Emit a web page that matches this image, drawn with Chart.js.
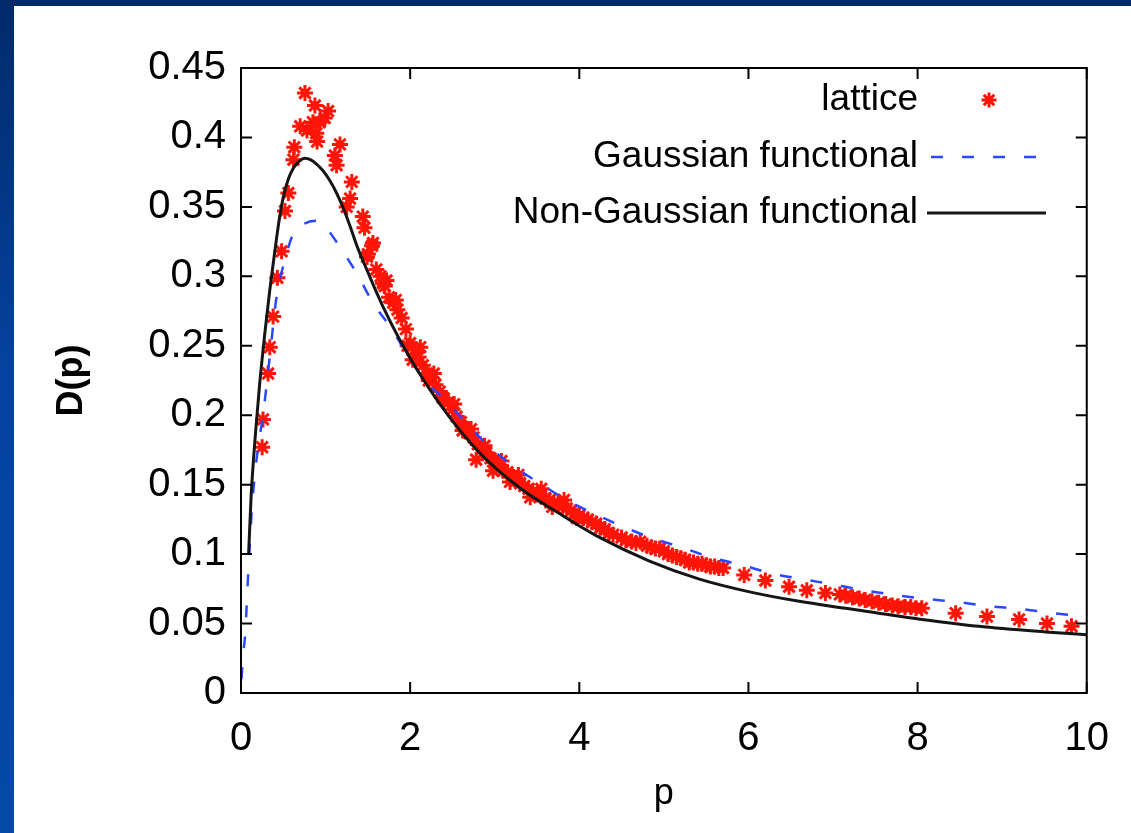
<!DOCTYPE html>
<html>
<head>
<meta charset="utf-8">
<script src="https://cdn.jsdelivr.net/npm/chart.js@4.4.0/dist/chart.umd.min.js"></script>
<style>
    html, body { margin: 0; padding: 0; width: 1131px; height: 833px; overflow: hidden; }
    body { position: relative; background: linear-gradient(to bottom, #022a6a 0%, #0542a0 45%, #0649a8 100%); }
    .panel { position: absolute; left: 14px; top: 6px; right: 0; bottom: 0; background: #fff; }
    #dist { position: absolute; left: 0; top: 0; }
</style>
</head>
<body>
<div class="panel"></div>
<canvas id="dist" width="1131" height="833"></canvas>
<script>
// lattice data D(p)
const latticeP = [
    0.25, 0.26, 0.32, 0.34, 0.38, 0.43, 0.48, 0.52, 0.56, 0.62, 0.63,
    0.70, 0.756, 0.78, 0.85, 0.874, 0.89, 0.90, 0.93, 0.99, 1.03,
    1.11, 1.13, 1.17, 1.25, 1.29, 1.31, 1.44, 1.46, 1.49, 1.56,
    1.50, 1.55, 1.60, 1.65, 1.68, 1.70, 1.72, 1.75, 1.80, 1.83, 1.85, 1.90, 1.95,
    1.97, 2.00, 2.03, 2.05, 2.10, 2.12, 2.15, 2.20, 2.22, 2.25, 2.28, 2.30, 2.35,
    2.38, 2.40, 2.45, 2.50, 2.52, 2.55, 2.60, 2.62, 2.65, 2.70, 2.72, 2.75, 2.78,
    2.80, 2.85, 2.88, 2.90, 2.95, 2.98, 3.00, 3.05, 3.08, 3.10, 3.15, 3.18, 3.20,
    3.25, 3.28, 3.30, 3.35, 3.40, 3.42, 3.45, 3.50, 3.55, 3.55, 3.60, 3.65, 3.68,
    3.70, 3.75, 3.80, 3.82, 3.85, 3.90, 3.95, 3.97, 4.00,
    4.05, 4.10, 4.15, 4.20, 4.25, 4.30, 4.35, 4.40, 4.50, 4.55, 4.62, 4.67, 4.72,
    4.80, 4.85, 4.90, 4.95, 5.00, 5.05, 5.10, 5.15, 5.20, 5.25, 5.30, 5.35, 5.40,
    5.45, 5.50, 5.55, 5.60, 5.65, 5.70, 5.95,
    6.20, 6.48, 6.69, 6.91, 7.08, 7.15, 7.23, 7.31, 7.38, 7.46, 7.54, 7.62, 7.70,
    7.77, 7.85, 7.92, 7.98, 8.05, 8.45, 8.82, 9.20, 9.53, 9.82
];
const latticeD = [
    0.177, 0.197, 0.230, 0.249, 0.271, 0.299, 0.318, 0.347, 0.360, 0.384, 0.393,
    0.408, 0.432, 0.405, 0.411, 0.423, 0.403, 0.397, 0.411, 0.414, 0.419,
    0.387, 0.380, 0.395, 0.350, 0.356, 0.368, 0.343, 0.335, 0.314, 0.324,
    0.316, 0.322, 0.305, 0.300, 0.295, 0.293, 0.297, 0.285, 0.281, 0.283, 0.276, 0.270, 0.262,
    0.250, 0.252, 0.240, 0.247, 0.242, 0.249, 0.236, 0.230, 0.225, 0.227, 0.230, 0.222, 0.217,
    0.213, 0.212, 0.209, 0.204, 0.208, 0.199, 0.195, 0.189, 0.191, 0.187, 0.190, 0.184, 0.168,
    0.179, 0.176, 0.178, 0.173, 0.169, 0.160, 0.166, 0.164, 0.167, 0.160, 0.159, 0.152, 0.156,
    0.153, 0.157, 0.151, 0.149, 0.147, 0.141, 0.145, 0.143, 0.142, 0.147, 0.140, 0.139, 0.134,
    0.137, 0.136, 0.134, 0.139, 0.133, 0.131, 0.130, 0.126, 0.128,
    0.126, 0.125, 0.123, 0.122, 0.119, 0.118, 0.115, 0.114, 0.112, 0.110, 0.109, 0.108, 0.109,
    0.106, 0.105, 0.104, 0.104, 0.102, 0.100, 0.099, 0.098, 0.097, 0.096, 0.094, 0.094, 0.093,
    0.093, 0.092, 0.091, 0.091, 0.090, 0.090, 0.085,
    0.081, 0.0765, 0.074, 0.072, 0.071, 0.070, 0.069, 0.068, 0.067, 0.066, 0.065, 0.064, 0.063,
    0.0625, 0.062, 0.062, 0.061, 0.061, 0.0575, 0.055, 0.053, 0.050, 0.048
];

// Gaussian functional curve
const gaussP = [
    0.005, 0.03, 0.05, 0.085, 0.126, 0.165, 0.21, 0.26, 0.34, 0.42, 0.52, 0.62,
    0.75, 0.90, 1.03, 1.17, 1.37, 1.56, 1.76, 2.15, 2.43, 2.67, 2.94, 3.21, 3.53,
    3.85, 4.18, 4.51, 4.86, 5.20, 5.54, 5.93, 6.28, 6.64, 7.01, 7.37, 7.74, 8.11,
    8.47, 8.84, 9.22, 9.58, 10.0
];
const gaussD = [
    0.010, 0.030, 0.043, 0.086, 0.130, 0.158, 0.180, 0.200, 0.242, 0.285, 0.312, 0.331,
    0.338, 0.340, 0.333, 0.321, 0.302, 0.281, 0.264, 0.227, 0.210, 0.194, 0.177, 0.164, 0.151,
    0.139, 0.129, 0.120, 0.1115, 0.105, 0.098, 0.092, 0.086, 0.082, 0.078, 0.074, 0.0705, 0.0677,
    0.0655, 0.0626, 0.0605, 0.0576, 0.055
];

// Non-Gaussian functional curve
const nonGaussP = [
    0.09, 0.12, 0.17, 0.22, 0.28, 0.34, 0.40, 0.45, 0.50, 0.56, 0.62, 0.69, 0.756,
    0.82, 0.89, 0.97, 1.05, 1.13, 1.21, 1.29, 1.37, 1.50, 1.68, 1.88, 2.11, 2.43,
    2.82, 3.29, 3.77, 4.24, 4.83, 5.42, 6.00, 6.60, 7.15, 7.93, 8.72, 9.51, 10.0
];
const nonGaussD = [
    0.100, 0.142, 0.186, 0.222, 0.258, 0.290, 0.318, 0.340, 0.357, 0.370, 0.378, 0.383, 0.385,
    0.384, 0.381, 0.376, 0.369, 0.360, 0.349, 0.336, 0.322, 0.303, 0.278, 0.254, 0.230, 0.2015,
    0.173, 0.148, 0.129, 0.112, 0.095, 0.082, 0.073, 0.066, 0.061, 0.054, 0.048, 0.044, 0.042
];

const xTicks = [0, 2, 4, 6, 8, 10];
const yTicks = [0, 0.05, 0.1, 0.15, 0.2, 0.25, 0.3, 0.35, 0.4, 0.45];
const yTickLabels = ['0', '0.05', '0.1', '0.15', '0.2', '0.25', '0.3', '0.35', '0.4', '0.45'];
const keyLabels = ['lattice', 'Gaussian functional', 'Non-Gaussian functional'];

const FONT = '"Liberation Sans", Arial, Helvetica, sans-serif';
const RED = '#ff1408';
const BLUE = '#2a48ff';
const BLACK = '#151515';
const DASH = [12, 19];

function pairs(xs, ys) {
    return xs.map((x, i) => ({ x: x, y: ys[i] }));
}

function drawStar(ctx, x, y, r) {
    const d = r * Math.SQRT1_2;
    ctx.beginPath();
    ctx.moveTo(x - r, y); ctx.lineTo(x + r, y);
    ctx.moveTo(x, y - r); ctx.lineTo(x, y + r);
    ctx.moveTo(x - d, y - d); ctx.lineTo(x + d, y + d);
    ctx.moveTo(x - d, y + d); ctx.lineTo(x + d, y - d);
    ctx.stroke();
}

// border box, inward ticks on all four sides, and the key in the top right
const frameAndKey = {
    id: 'frameAndKey',
    afterDatasetsDraw(chart) {
        const { ctx, chartArea: a, scales: { x, y } } = chart;
        ctx.save();
        ctx.strokeStyle = '#000';
        ctx.lineWidth = 2;
        ctx.setLineDash([]);
        ctx.strokeRect(a.left, a.top, a.right - a.left, a.bottom - a.top);

        ctx.beginPath();
        xTicks.forEach(v => {
            const px = x.getPixelForValue(v);
            ctx.moveTo(px, a.bottom); ctx.lineTo(px, a.bottom - 11);
            ctx.moveTo(px, a.top); ctx.lineTo(px, a.top + 11);
        });
        yTicks.forEach(v => {
            const py = y.getPixelForValue(v);
            ctx.moveTo(a.left, py); ctx.lineTo(a.left + 11, py);
            ctx.moveTo(a.right, py); ctx.lineTo(a.right - 11, py);
        });
        ctx.stroke();

        // key
        const textRight = 918;
        const rows = [100, 157, 213];
        ctx.font = '37px ' + FONT;
        ctx.fillStyle = '#000';
        ctx.textAlign = 'right';
        ctx.textBaseline = 'middle';
        keyLabels.forEach((t, i) => ctx.fillText(t, textRight, rows[i]));

        ctx.strokeStyle = RED;
        ctx.lineWidth = 3;
        drawStar(ctx, 989, rows[0], 7.5);

        ctx.strokeStyle = BLUE;
        ctx.lineWidth = 2.5;
        ctx.setLineDash(DASH);
        ctx.beginPath();
        ctx.moveTo(931, rows[1]); ctx.lineTo(1046, rows[1]);
        ctx.stroke();

        ctx.setLineDash([]);
        ctx.strokeStyle = BLACK;
        ctx.lineWidth = 3;
        ctx.beginPath();
        ctx.moveTo(927, rows[2]); ctx.lineTo(1046, rows[2]);
        ctx.stroke();
        ctx.restore();
    }
};

const ctx = document.getElementById('dist').getContext('2d');

const distChart = new Chart(ctx, {
    type: 'scatter',
    data: {
        datasets: [
            {
                label: keyLabels[0],
                data: pairs(latticeP, latticeD),
                pointStyle: 'star',
                pointRadius: 8,
                pointBorderWidth: 3,
                borderColor: RED,
                backgroundColor: RED,
                showLine: false,
                order: 3
            },
            {
                label: keyLabels[1],
                data: pairs(gaussP, gaussD),
                showLine: true,
                borderColor: BLUE,
                borderWidth: 2.5,
                borderDash: DASH,
                pointRadius: 0,
                cubicInterpolationMode: 'monotone',
                order: 2
            },
            {
                label: keyLabels[2],
                data: pairs(nonGaussP, nonGaussD),
                showLine: true,
                borderColor: BLACK,
                borderWidth: 3,
                pointRadius: 0,
                cubicInterpolationMode: 'monotone',
                order: 1
            }
        ]
    },
    options: {
        responsive: false,
        animation: false,
        layout: {
            padding: { left: 40, top: 68, right: 43, bottom: 0 }
        },
        plugins: {
            legend: { display: false },
            tooltip: { enabled: false }
        },
        scales: {
            x: {
                type: 'linear',
                min: 0,
                max: 10,
                afterBuildTicks: scale => {
                    scale.ticks = xTicks.map(v => ({ value: v }));
                },
                afterFit: scale => {
                    scale.height = 140;
                },
                grid: { display: false, drawTicks: false },
                border: { display: false },
                ticks: {
                    color: '#000',
                    padding: 22,
                    maxRotation: 0,
                    font: { family: FONT, size: 40 }
                },
                title: {
                    display: true,
                    text: 'p',
                    color: '#000',
                    padding: { top: 0, bottom: 17 },
                    font: { family: FONT, size: 36 }
                }
            },
            y: {
                type: 'linear',
                min: 0,
                max: 0.45,
                afterBuildTicks: scale => {
                    scale.ticks = yTicks.map(v => ({ value: v }));
                },
                afterFit: scale => {
                    scale.width = 201;
                },
                grid: { display: false, drawTicks: false },
                border: { display: false },
                ticks: {
                    color: '#000',
                    padding: 15,
                    font: { family: FONT, size: 40 },
                    callback: (value, index) => yTickLabels[index]
                },
                title: {
                    display: true,
                    text: 'D(p)',
                    color: '#000',
                    padding: { top: 10, bottom: 0 },
                    font: { family: FONT, size: 36, weight: 'bold' }
                }
            }
        }
    },
    plugins: [frameAndKey]
});
</script>
</body>
</html>
